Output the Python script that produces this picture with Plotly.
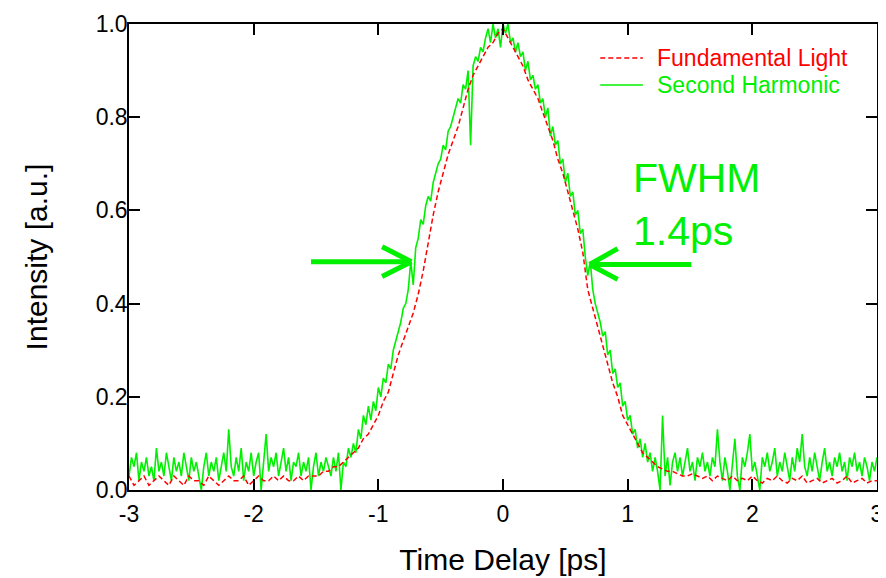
import plotly.graph_objects as go
import numpy as np

# time grid steps (ps) for the two recorded traces
t_start = -3.0
sh_step = 0.02
fl_step = 0.04

# Second Harmonic intensity, sampled every 0.02 ps from -3 ps
second_harmonic = [
    0.03, 0.07, 0.05, 0.08, 0.02, 0.06, 0.04, 0.07, 0.03, 0.05,
    0.02, 0.09, 0.04, 0.06, 0.03, 0.08, 0.05, 0.02, 0.07, 0.04,
    0.06, 0.03, 0.08, 0.05, 0.02, 0.07, 0.04, 0.06, 0.03, 0.00,
    0.05, 0.08, 0.03, 0.06, 0.04, 0.07, 0.02, 0.05, 0.08, 0.04,
    0.13, 0.05, 0.03, 0.07, 0.04, 0.09, 0.02, 0.06, 0.04, 0.08,
    0.03, 0.06, 0.08, 0.00, 0.06, 0.12, 0.04, 0.07, 0.05, 0.08,
    0.03, 0.06, 0.09, 0.04, 0.07, 0.02, 0.06, 0.05, 0.08, 0.03,
    0.06, 0.04, 0.07, 0.00, 0.05, 0.08, 0.03, 0.06, 0.04, 0.07,
    0.05, 0.03, 0.07, 0.04, 0.08, 0.00,
    0.06, 0.05, 0.09, 0.07, 0.10, 0.08, 0.13, 0.11, 0.16, 0.14,
    0.18, 0.15, 0.19, 0.17, 0.22, 0.20, 0.24, 0.23, 0.27, 0.26,
    0.30, 0.32, 0.34, 0.36, 0.39, 0.40, 0.43, 0.49, 0.44, 0.52,
    0.54, 0.58, 0.57, 0.61, 0.63, 0.62, 0.66, 0.68, 0.70, 0.71,
    0.74, 0.73, 0.77, 0.78, 0.80, 0.82, 0.84, 0.83, 0.87, 0.86,
    0.90, 0.74, 0.91, 0.93, 0.92, 0.95, 0.94, 0.97, 0.99, 0.96,
    1.00, 0.97, 0.99, 0.95, 1.00, 0.98, 1.00, 0.96, 0.97, 0.94,
    0.96, 0.93, 0.94, 0.90, 0.92, 0.88, 0.89, 0.86, 0.87, 0.83,
    0.84, 0.80, 0.82, 0.76, 0.78, 0.74, 0.75, 0.70, 0.71, 0.66,
    0.68, 0.63, 0.64, 0.59, 0.60, 0.55, 0.56, 0.50, 0.46, 0.49,
    0.43, 0.40, 0.38, 0.36, 0.33, 0.34, 0.29, 0.30, 0.25, 0.26,
    0.22, 0.23, 0.18, 0.19, 0.15, 0.16, 0.12, 0.13, 0.09, 0.11,
    0.07, 0.10, 0.06, 0.08, 0.04,
    0.07, 0.04, 0.00, 0.16, 0.03, 0.07, 0.01, 0.06, 0.08, 0.04,
    0.07, 0.03, 0.06, 0.09, 0.04, 0.06, 0.02, 0.07, 0.05, 0.08,
    0.04, 0.06, 0.03, 0.07, 0.05, 0.13, 0.06, 0.02, 0.07, 0.04,
    0.00, 0.06, 0.11, 0.03, 0.00, 0.07, 0.05, 0.08, 0.12, 0.04,
    0.06, 0.03, 0.00, 0.07, 0.05, 0.08, 0.04, 0.06, 0.09, 0.03,
    0.06, 0.04, 0.08, 0.05, 0.02, 0.07, 0.04, 0.09, 0.06, 0.12,
    0.05, 0.03, 0.07, 0.04, 0.08, 0.05, 0.02, 0.06, 0.09, 0.04,
    0.06, 0.03, 0.07, 0.05, 0.08, 0.04, 0.06, 0.02, 0.07, 0.05,
    0.08, 0.04, 0.06, 0.03, 0.07, 0.05, 0.02, 0.06, 0.04, 0.07,
]

# Fundamental Light intensity, sampled every 0.04 ps from -3 ps
fundamental = [
    0.03, 0.01, 0.02, 0.03, 0.01, 0.02, 0.03, 0.02, 0.01, 0.03,
    0.02, 0.01, 0.03, 0.02, 0.02, 0.01, 0.03, 0.02, 0.01, 0.02,
    0.03, 0.02, 0.02, 0.03, 0.01, 0.02, 0.03, 0.02, 0.02, 0.03,
    0.02, 0.03, 0.02, 0.02, 0.03, 0.02, 0.03, 0.03,
    0.03, 0.04, 0.04, 0.05, 0.05, 0.06, 0.07, 0.08, 0.09, 0.11,
    0.12, 0.14, 0.16, 0.19, 0.21, 0.25, 0.29, 0.32, 0.35, 0.38,
    0.42, 0.47, 0.53, 0.59, 0.64, 0.68, 0.72, 0.75, 0.78, 0.82,
    0.86, 0.89, 0.91, 0.93, 0.95, 0.96, 0.98, 0.99, 0.97, 0.95,
    0.93, 0.91, 0.88, 0.86, 0.84, 0.81, 0.78, 0.75, 0.71, 0.68,
    0.64, 0.60, 0.56, 0.51, 0.43, 0.39, 0.35, 0.31, 0.27, 0.23,
    0.20, 0.16, 0.14, 0.12, 0.10, 0.08, 0.07, 0.06, 0.05, 0.045,
    0.04, 0.04, 0.035,
    0.03, 0.03, 0.035, 0.03, 0.025, 0.03, 0.02, 0.03, 0.025, 0.02,
    0.03, 0.02, 0.025, 0.02, 0.03, 0.02, 0.015, 0.025, 0.02, 0.03,
    0.02, 0.015, 0.025, 0.02, 0.03, 0.015, 0.02, 0.025, 0.015, 0.02,
    0.025, 0.015, 0.02, 0.03, 0.015, 0.02, 0.025, 0.015, 0.02, 0.02,
]

x_ticks = [-3, -2, -1, 0, 1, 2, 3]
x_ticktext = ["-3", "-2", "-1", "0", "1", "2", "3"]
y_ticks = [0.0, 0.2, 0.4, 0.6, 0.8, 1.0]
y_ticktext = ["0.0", "0.2", "0.4", "0.6", "0.8", "1.0"]
legend_names = ["Fundamental Light", "Second Harmonic"]

RED = "#FF0000"
GREEN = "#00F000"
FONT = "Liberation Sans, Arial, Helvetica, sans-serif"

t_sh = t_start + sh_step * np.arange(len(second_harmonic))
t_fl = t_start + fl_step * np.arange(len(fundamental))

fig = go.Figure()
fig.add_trace(go.Scatter(
    x=t_sh, y=second_harmonic, mode="lines", name=legend_names[1],
    line=dict(color=GREEN, width=1.6), showlegend=False,
))
fig.add_trace(go.Scatter(
    x=t_fl, y=fundamental, mode="lines", name=legend_names[0],
    line=dict(color=RED, width=1.5, dash="5px,3px"), showlegend=False,
))

# FWHM arrows (shaft + open head)
arrow = dict(type="line", xref="x", yref="y", line=dict(color=GREEN, width=5))
shapes = [
    dict(arrow, x0=-1.54, y0=0.49, x1=-0.74, y1=0.49),
    dict(arrow, x0=-0.97, y0=0.522, x1=-0.735, y1=0.49),
    dict(arrow, x0=-0.97, y0=0.458, x1=-0.735, y1=0.49),
    dict(arrow, x0=1.51, y0=0.484, x1=0.70, y1=0.484),
    dict(arrow, x0=0.92, y0=0.518, x1=0.695, y1=0.484),
    dict(arrow, x0=0.92, y0=0.452, x1=0.695, y1=0.484),
]
# legend samples drawn like the original annotation box
sample = dict(type="line", xref="paper", yref="paper", x0=0.630, x1=0.687)
shapes += [
    dict(sample, y0=0.927, y1=0.927, line=dict(color=RED, width=1.5, dash="5px,3px")),
    dict(sample, y0=0.869, y1=0.869, line=dict(color=GREEN, width=1.6)),
]

annotations = [
    dict(x=0.703, y=0.927, xref="paper", yref="paper", xanchor="left",
         yanchor="middle", text=legend_names[0], showarrow=False,
         font=dict(size=23, color=RED, family=FONT)),
    dict(x=0.703, y=0.869, xref="paper", yref="paper", xanchor="left",
         yanchor="middle", text=legend_names[1], showarrow=False,
         font=dict(size=23, color=GREEN, family=FONT)),
    dict(x=1.03, y=0.613, xref="x", yref="y",
         xanchor="left", yanchor="middle", align="left",
         text="FWHM<br>1.4ps", showarrow=False,
         font=dict(size=41, color=GREEN, family=FONT)),
]

# the page body adds an 8px offset, so the figure is sized to fit the window
fig.update_layout(
    width=878, height=570,
    margin=dict(l=121, r=9, t=16, b=88),
    paper_bgcolor="white", plot_bgcolor="white",
    font=dict(family=FONT, color="black"),
    showlegend=False,
    shapes=shapes,
    annotations=annotations,
)

axis_common = dict(
    showline=True, linecolor="black", linewidth=1.5, mirror="ticks",
    ticks="inside", ticklen=11, tickwidth=1.5, tickcolor="black",
    showgrid=False, zeroline=False, automargin=False,
    tickfont=dict(size=23, family=FONT, color="black"),
    title_font=dict(size=30, family=FONT, color="black"),
)
fig.update_xaxes(
    axis_common, range=[-3, 3], tickvals=x_ticks, ticktext=x_ticktext,
    title_text="Time Delay [ps]", title_standoff=23, ticklabelstandoff=3,
)
fig.update_yaxes(
    axis_common, range=[0, 1], tickvals=y_ticks, ticktext=y_ticktext,
    title_text="Intensity [a.u.]", title_standoff=39, ticklabelstandoff=-5,
)

fig.write_html("out.html")
